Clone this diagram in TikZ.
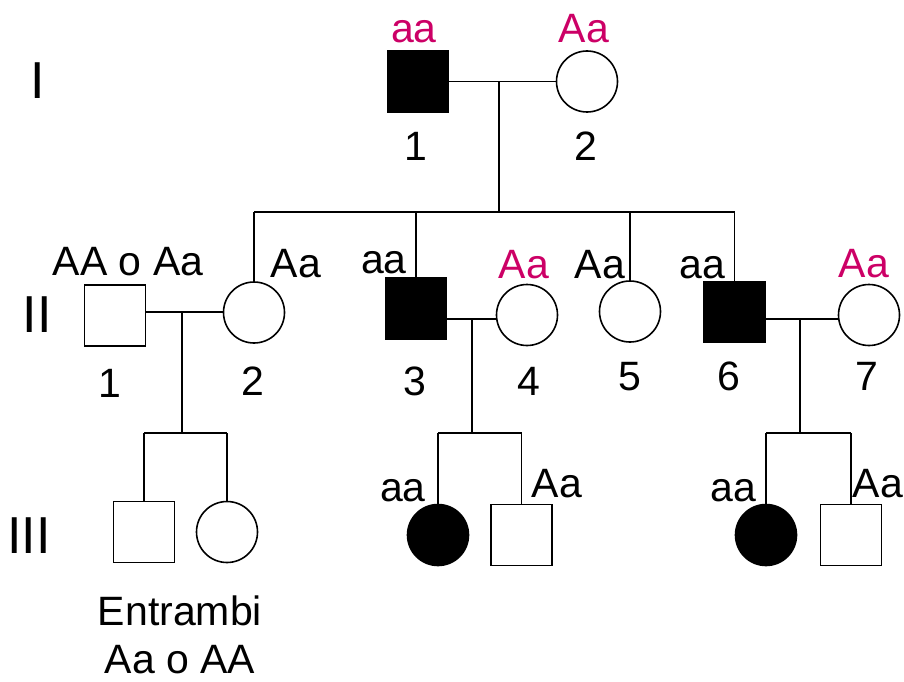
\documentclass[tikz,border=0pt]{standalone}
\usepackage{fontspec}
\setmainfont{Liberation Sans}
\definecolor{carrier}{RGB}{204,0,102}
\begin{document}
\begin{tikzpicture}[x=1pt,y=-1pt,line width=1.6pt,
                    male/.style={rectangle,draw,minimum size=61pt,inner sep=0pt},
                    female/.style={circle,draw,minimum size=61pt,inner sep=0pt},
                    affected/.style={fill=black},
                    geno/.style={anchor=base,inner sep=0pt,font=\fontsize{41}{49}\selectfont},
                    carriergeno/.style={geno,text=carrier},
                    gen/.style={anchor=base,inner sep=0pt,font=\fontsize{52}{60}\selectfont}
                   ]
  \useasboundingbox (0,0) rectangle (904,682);
  % generation labels
  \node[gen] (GI) at (38,99) {I};
  \node[gen] (GII) at (37,332) {II};
  \node[gen] (GIII) at (29,553) {III};
  % generation I
  \node[male,affected] (I1) at (418,81.5) {};
  \node[female] (I2) at (587,81.5) {};
  \node[carriergeno] (gI1) at (414,43) {aa};
  \node[carriergeno] (gI2) at (584,43) {Aa};
  \node[geno] (nI1) at (416,160) {1};
  \node[geno] (nI2) at (586,160) {2};
  % generation II
  \node[male] (II1) at (115,315.5) {};
  \node[female] (II2) at (254,312.5) {};
  \node[male,affected] (II3) at (416,308.5) {};
  \node[female] (II4) at (527,315) {};
  \node[female] (II5) at (630,311.5) {};
  \node[male,affected] (II6) at (734.5,312) {};
  \node[female] (II7) at (869,315) {};
  \node[geno] (gII1) at (128,275) {AA o Aa};
  \node[geno] (gII2) at (296,277) {Aa};
  \node[geno] (gII3) at (384,273) {aa};
  \node[carriergeno] (gII4) at (524,278) {Aa};
  \node[geno] (gII5) at (600,278) {Aa};
  \node[geno] (gII6) at (702,278) {aa};
  \node[carriergeno] (gII7) at (864,277) {Aa};
  \node[geno] (nII1) at (110,397) {1};
  \node[geno] (nII2) at (253,395) {2};
  \node[geno] (nII3) at (415,395) {3};
  \node[geno] (nII4) at (529,395) {4};
  \node[geno] (nII5) at (630,390) {5};
  \node[geno] (nII6) at (729,390) {6};
  \node[geno] (nII7) at (867,390) {7};
  % generation III
  \node[male] (III1) at (144,532) {};
  \node[female] (III2) at (227,532) {};
  \node[female,affected] (III3) at (438,535) {};
  \node[male] (III4) at (521.5,535) {};
  \node[female,affected] (III5) at (766,535) {};
  \node[male] (III6) at (851,535) {};
  \node[geno] (gIII3) at (403,501) {aa};
  \node[geno] (gIII4) at (557,497) {Aa};
  \node[geno] (gIII5) at (733,501) {aa};
  \node[geno] (gIII6) at (878,497) {Aa};
  \node[geno] (eIII1) at (180,625) {Entrambi};
  \node[geno] (eIII2) at (180,673) {Aa o AA};
  % matings and sibships
  \coordinate (mI) at (499,81.5);
  \coordinate (sI) at (499,212);
  \coordinate (m1) at (182,312);
  \coordinate (s1) at (182,433);
  \coordinate (m2) at (472,319);
  \coordinate (s2) at (472,433);
  \coordinate (m3) at (800,319);
  \coordinate (s3) at (800,433);
  \draw (I1) -- (I2);
  \draw (mI) -- (sI);
  \draw (II2 |- sI) -- (II6 |- sI);
  \foreach \c in {II2,II3,II5,II6}
    \draw (\c |- sI) -- (\c.north);
  \draw (II1.east |- m1) -- (II2.west |- m1);
  \draw (II3.east |- m2) -- (II4.west |- m2);
  \draw (II6.east |- m3) -- (II7.west |- m3);
  \draw (m1) -- (s1);
  \draw (m2) -- (s2);
  \draw (m3) -- (s3);
  \draw (III1 |- s1) -- (III2 |- s1);
  \draw (III3 |- s2) -- (III4 |- s2);
  \draw (III5 |- s3) -- (III6 |- s3);
  \foreach \c/\s in {III1/s1,III2/s1,III3/s2,III4/s2,III5/s3,III6/s3}
    \draw (\c |- \s) -- (\c.north);
\end{tikzpicture}
\end{document}
